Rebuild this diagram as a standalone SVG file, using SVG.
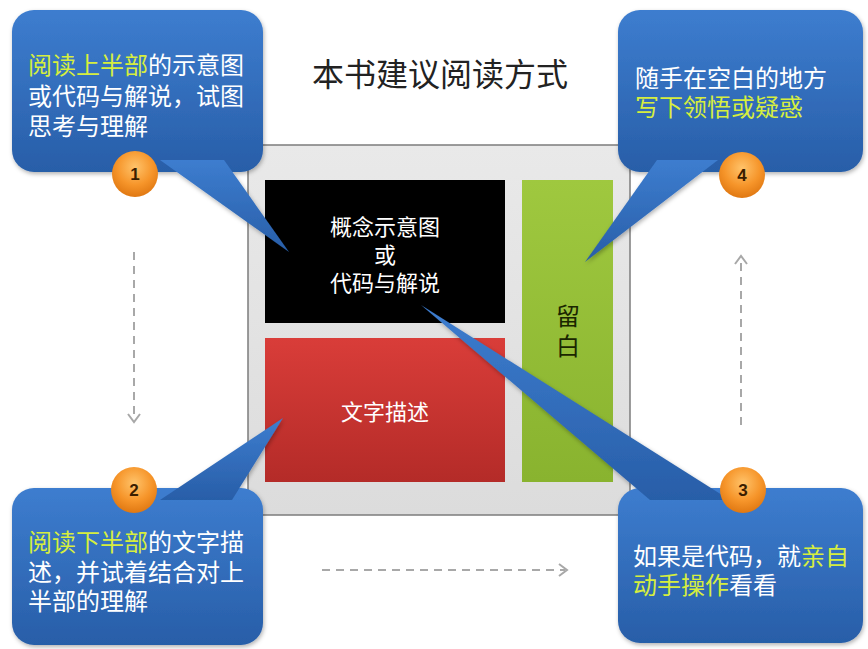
<svg xmlns="http://www.w3.org/2000/svg" width="868" height="649" viewBox="0 0 868 649">
  <style>
    text { font-family: "Noto Sans CJK SC", "Liberation Sans", sans-serif; }
    .bubble { fill: url(#blueGrad); filter: url(#shadow); }
    .ctext { font-size: 24px; fill: #ffffff; }
    .hl { fill: #d6ee3e; }
    .badge { fill: url(#orangeGrad); }
    .num { font-size: 17px; font-weight: bold; fill: #3a1e00; text-anchor: middle; font-family: "Liberation Sans", sans-serif; }
    .flow { stroke: #a8a8a8; stroke-width: 2; stroke-dasharray: 8 6; fill: none; }
    .head { stroke: #a8a8a8; stroke-width: 2; fill: none; }
    .boxtext { font-size: 22px; fill: #ffffff; text-anchor: middle; }
  </style>
  <defs>
    <linearGradient id="blueGrad" x1="0" y1="0" x2="0" y2="1">
      <stop offset="0" stop-color="#3d7dcf"/>
      <stop offset="1" stop-color="#285ea8"/>
    </linearGradient>
    <radialGradient id="orangeGrad" cx="0.5" cy="0.35" r="0.65">
      <stop offset="0" stop-color="#ffc36a"/>
      <stop offset="0.6" stop-color="#f6952a"/>
      <stop offset="1" stop-color="#e07812"/>
    </radialGradient>
    <linearGradient id="redGrad" x1="0" y1="0" x2="0" y2="1">
      <stop offset="0" stop-color="#d93d39"/>
      <stop offset="1" stop-color="#b42b28"/>
    </linearGradient>
    <linearGradient id="greenGrad" x1="0" y1="0" x2="0" y2="1">
      <stop offset="0" stop-color="#9fc83f"/>
      <stop offset="1" stop-color="#89b32f"/>
    </linearGradient>
    <linearGradient id="grayGrad" x1="0" y1="0" x2="0" y2="1">
      <stop offset="0" stop-color="#e9e9e9"/>
      <stop offset="1" stop-color="#dcdcdc"/>
    </linearGradient>
    <filter id="shadow" x="-10%" y="-10%" width="125%" height="125%">
      <feDropShadow dx="1" dy="2" stdDeviation="2" flood-color="#000" flood-opacity="0.3"/>
    </filter>
  </defs>

  <rect width="868" height="649" fill="#ffffff"/>

  <g id="title">
    <text x="440" y="86" font-size="32" fill="#222222" text-anchor="middle">本书建议阅读方式</text>
  </g>

  <g id="page">
    <rect x="248" y="145" width="382" height="370" fill="url(#grayGrad)" stroke="#7c7c7c" stroke-width="1.5"/>
  </g>
  <g id="concept">
    <rect x="265" y="180" width="240" height="143" fill="#000000"/>
    <text class="boxtext" x="385" y="235">概念示意图</text>
    <text class="boxtext" x="385" y="263">或</text>
    <text class="boxtext" x="385" y="291">代码与解说</text>
  </g>
  <g id="description">
    <rect x="265" y="338" width="240" height="144" fill="url(#redGrad)"/>
    <text class="boxtext" x="385" y="420" font-size="24">文字描述</text>
  </g>
  <g id="blank">
    <rect x="522" y="180" width="91" height="302" fill="url(#greenGrad)"/>
    <text x="568" y="325" font-size="24" fill="#1a2600" text-anchor="middle">留</text>
    <text x="568" y="355" font-size="24" fill="#1a2600" text-anchor="middle">白</text>
  </g>

  <g id="connectors">
    <line class="flow" x1="134" y1="252" x2="134" y2="420"/>
    <polyline class="head" points="128,414 134,422 140,414"/>
    <line class="flow" x1="322" y1="570" x2="565" y2="570"/>
    <polyline class="head" points="559,564 567,570 559,576"/>
    <line class="flow" x1="741" y1="425" x2="741" y2="258"/>
    <polyline class="head" points="735,264 741,256 747,264"/>
  </g>

  <g id="callout1">
    <g class="bubble">
      <rect x="12" y="10" width="251" height="162" rx="22"/>
      <polygon points="160,160 224,160 289,252"/>
    </g>
    <text class="ctext hl" x="28" y="74">阅读上半部</text>
    <text class="ctext" x="148" y="74">的示意图</text>
    <text class="ctext" x="28" y="105">或代码与解说，试图</text>
    <text class="ctext" x="28" y="135">思考与理解</text>
    <circle class="badge" cx="135" cy="174" r="23"/>
    <text class="num" x="135" y="180">1</text>
  </g>

  <g id="callout2">
    <g class="bubble">
      <rect x="12" y="488" width="251" height="157" rx="22"/>
      <polygon points="160,500 232,500 283,418"/>
    </g>
    <text class="ctext hl" x="28" y="551">阅读下半部</text>
    <text class="ctext" x="148" y="551">的文字描</text>
    <text class="ctext" x="28" y="581">述，并试着结合对上</text>
    <text class="ctext" x="28" y="610">半部的理解</text>
    <circle class="badge" cx="134" cy="490" r="23"/>
    <text class="num" x="134" y="496">2</text>
  </g>

  <g id="callout3">
    <g class="bubble">
      <rect x="618" y="488" width="245" height="155" rx="22"/>
      <polygon points="650,500 730,500 421,305"/>
    </g>
    <text class="ctext" x="633" y="565">如果是代码，就</text>
    <text class="ctext hl" x="801" y="565">亲自</text>
    <text class="ctext hl" x="633" y="594">动手操作</text>
    <text class="ctext" x="729" y="594">看看</text>
    <circle class="badge" cx="743" cy="490" r="23"/>
    <text class="num" x="743" y="496">3</text>
  </g>

  <g id="callout4">
    <g class="bubble">
      <rect x="618" y="10" width="245" height="162" rx="22"/>
      <polygon points="657,160 718,160 585,262"/>
    </g>
    <text class="ctext" x="635" y="87">随手在空白的地方</text>
    <text class="ctext hl" x="635" y="116">写下领悟或疑惑</text>
    <circle class="badge" cx="742" cy="175" r="23"/>
    <text class="num" x="742" y="181">4</text>
  </g>
</svg>
